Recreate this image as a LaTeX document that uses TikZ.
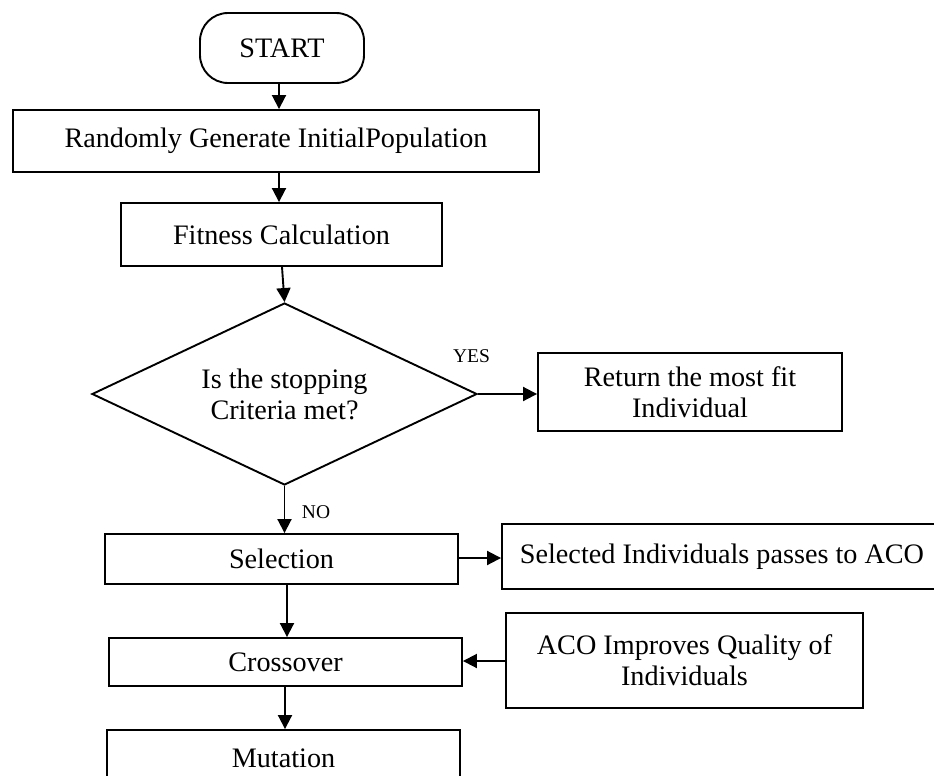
\documentclass[tikz,border=0pt]{standalone}
\usepackage{fontspec}
\setmainfont{Liberation Serif}
\usetikzlibrary{shapes.geometric,arrows.meta}
\begin{document}
\begin{tikzpicture}[x=1pt,y=-1pt,
  box/.style={draw, line width=1.9pt, inner sep=0pt, font=\fontsize{28.2}{31}\selectfont, align=center},
  arr/.style={line width=1.9pt, -{Triangle[length=14pt,width=14pt]}},
  lbl/.style={font=\fontsize{19.5}{22}\selectfont, inner sep=0pt}]
\useasboundingbox (0,0) rectangle (934,776);
% nodes
\node[box, rounded corners=28pt, minimum width=164pt, minimum height=70pt] (start) at (282,48) {START};
\node[box, minimum width=526pt, minimum height=62pt] (rand) at (276,141) {Randomly Generate InitialPopulation};
\node[box, minimum width=321pt, minimum height=63pt] (fit) at (281.5,234.5) {Fitness Calculation};
\node[box, diamond, aspect=2.1, minimum width=385pt, minimum height=182pt] (dia) at (284.5,394) {Is the stopping\\Criteria met?};
\node[box, minimum width=304pt, minimum height=78pt] (ret) at (690,392) {Return the most fit\\Individual};
\node[box, minimum width=353pt, minimum height=50pt] (sel) at (281.5,559) {Selection};
\node[box, minimum width=440pt, minimum height=65pt] (pass) at (722,556.5) {Selected Individuals passes to ACO};
\node[box, minimum width=353pt, minimum height=48pt] (cross) at (285.5,662) {Crossover};
\node[box, minimum width=357pt, minimum height=95pt] (aco) at (684.5,660.5) {ACO Improves Quality of\\Individuals};
\node[box, minimum width=353pt, minimum height=56pt] (mut) at (283.5,758) {Mutation};
\node[lbl] (yes) at (471.5,356) {YES};
\node[lbl] (no) at (316,512) {NO};
% helper x positions
\coordinate (xa) at (279,0);
\coordinate (xb) at (282,0);
\coordinate (xc) at (287,0);
\coordinate (xd) at (285,0);
\coordinate (ya) at (0,558);
\coordinate (yb) at (0,661);
% connectors
\draw[arr] (start.south -| xa) -- (rand.north -| xa);
\draw[arr] (rand.south -| xa) -- (fit.north -| xa);
\draw[arr] (fit.south -| xb) -- (dia.north);
\draw[arr] (dia.east) -- (ret.west |- dia.east);
\draw[arr] (dia.south) -- (sel.north -| dia.south);
\draw[arr] (sel.east |- ya) -- (pass.west |- ya);
\draw[arr] (sel.south -| xc) -- (cross.north -| xc);
\draw[arr] (aco.west |- yb) -- (cross.east |- yb);
\draw[arr] (cross.south -| xd) -- (mut.north -| xd);
\end{tikzpicture}
\end{document}
